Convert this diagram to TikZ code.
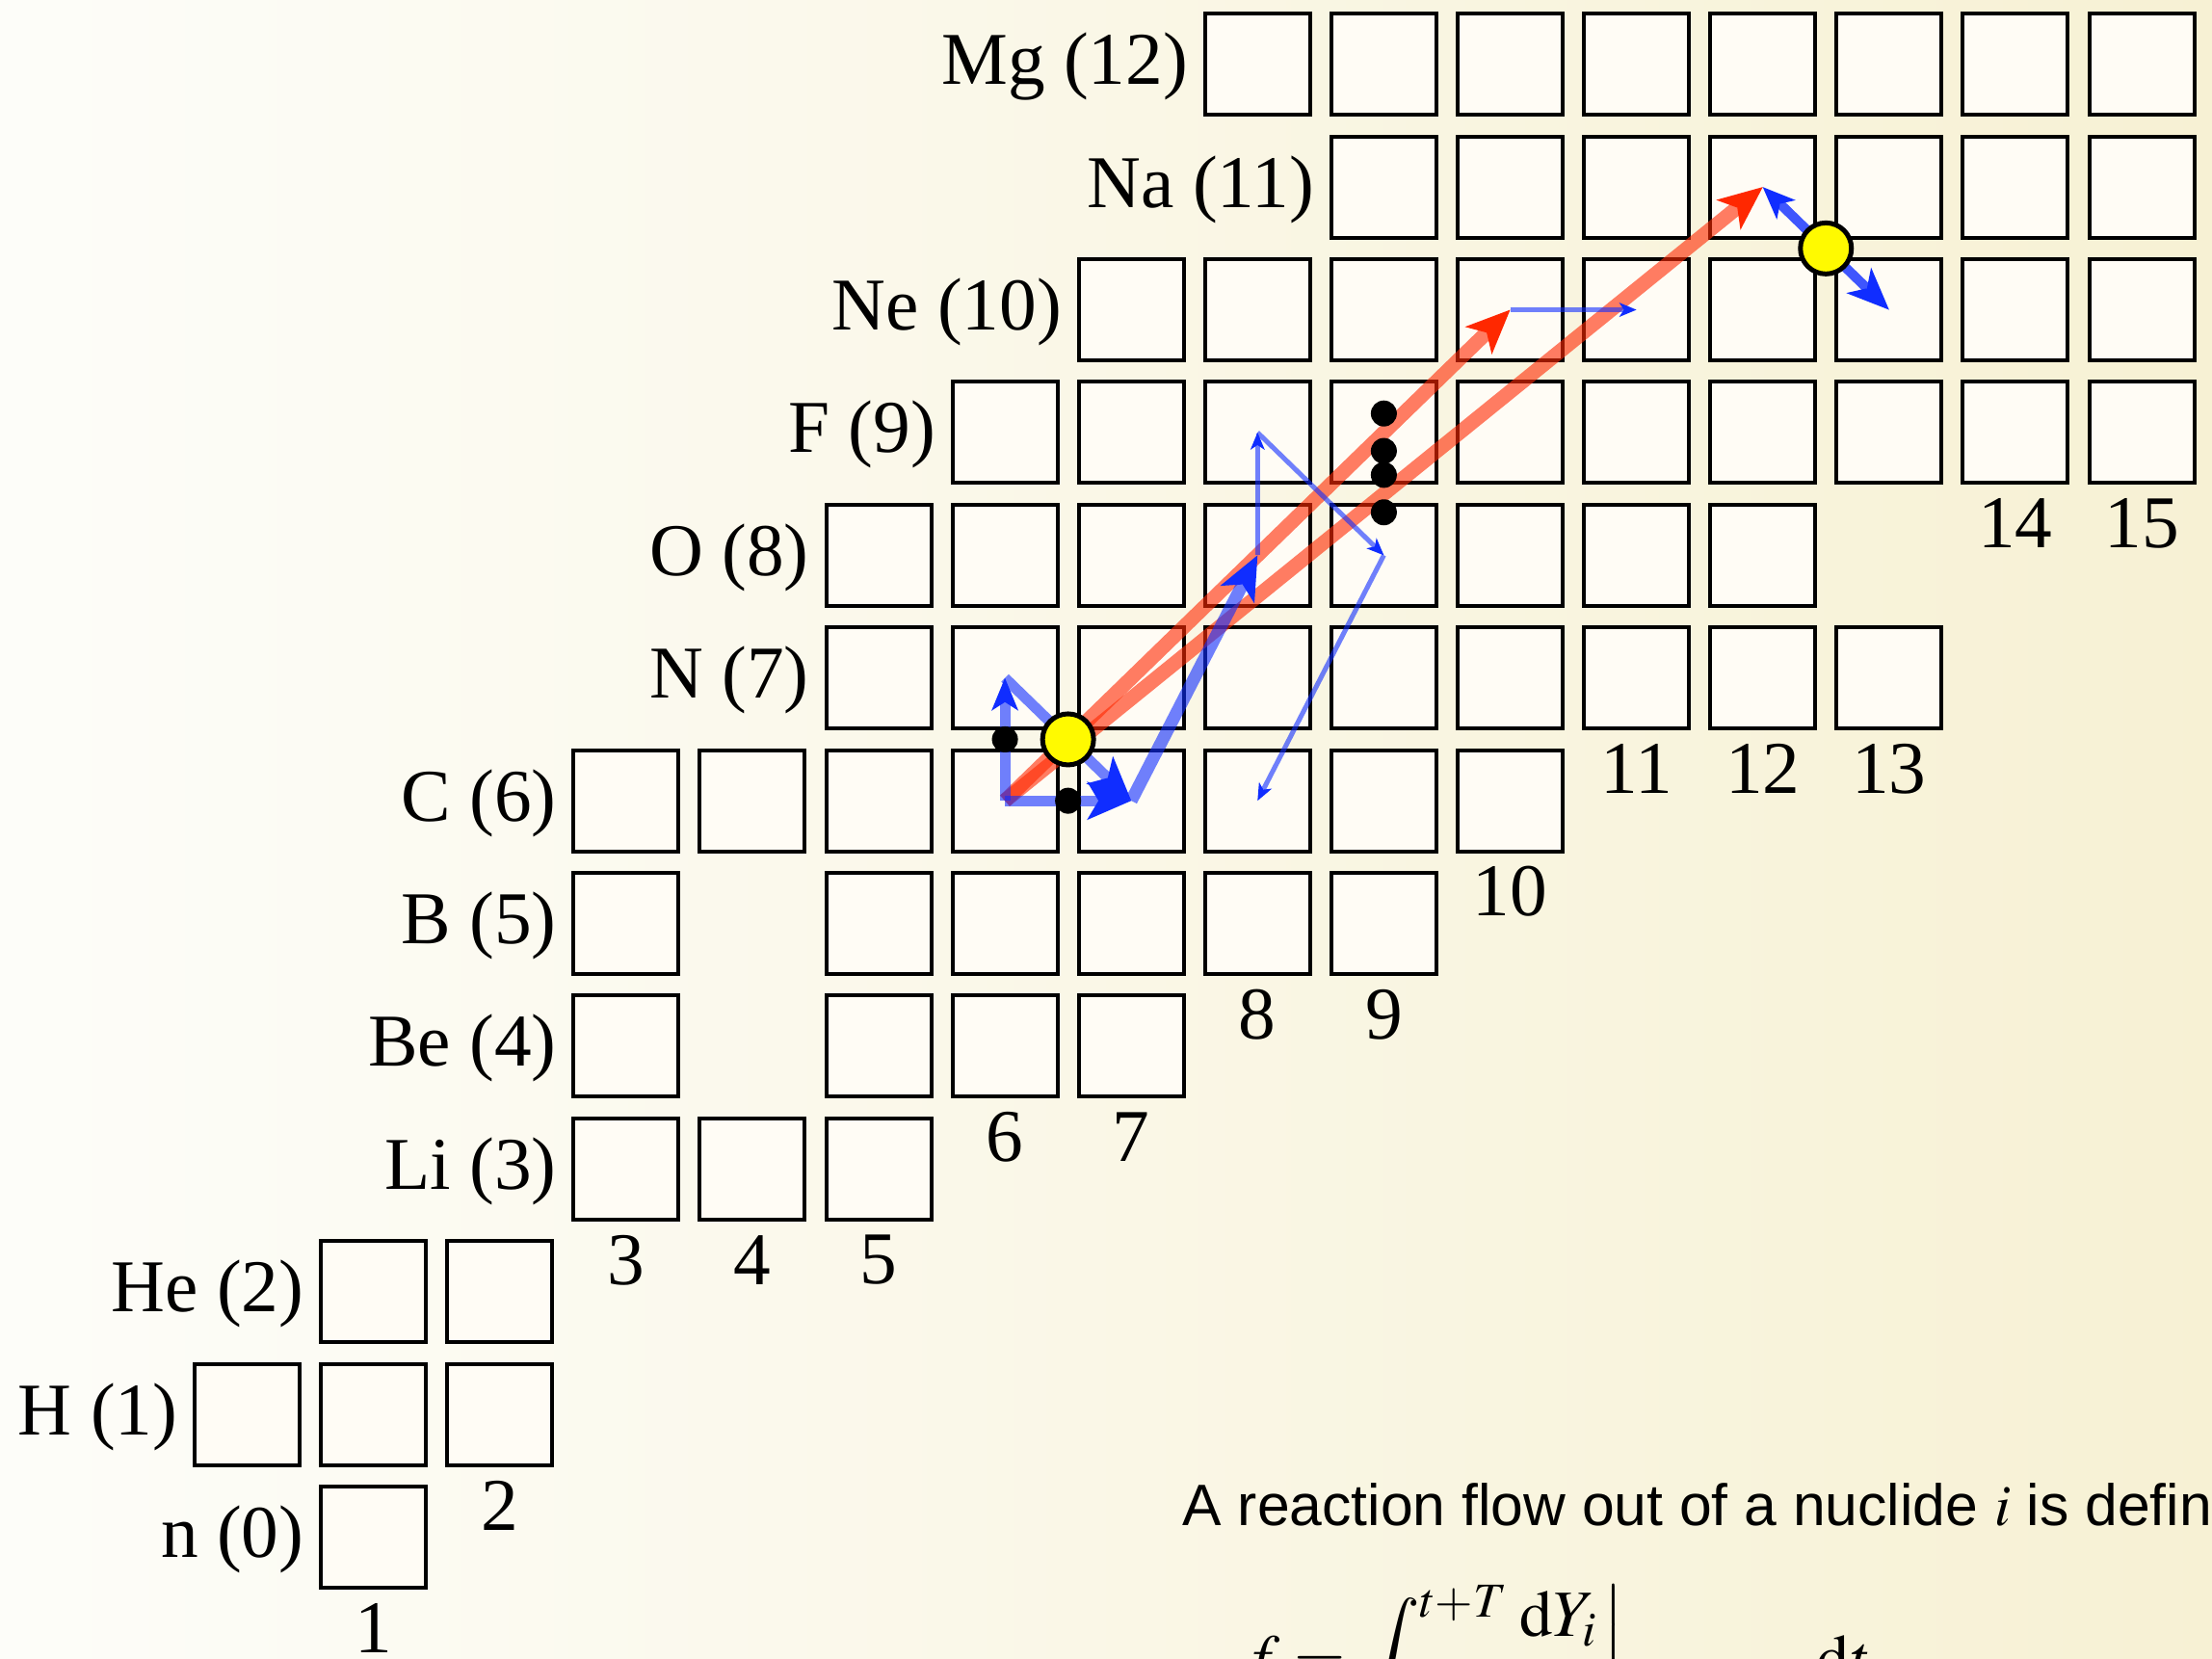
\documentclass[tikz,border=0pt]{standalone}
\usepackage{mathptmx}
\usepackage{fontspec}
\setmainfont{Liberation Serif}
\setsansfont{Liberation Sans}
\usetikzlibrary{arrows.meta}
\definecolor{bgleft}{RGB}{253,253,249}
\definecolor{bgright}{RGB}{247,241,212}
\definecolor{boxfill}{RGB}{255,252,245}
\definecolor{flowred}{RGB}{255,40,0}
\definecolor{flowblue}{RGB}{16,45,255}
\definecolor{hubyellow}{RGB}{255,250,0}

\begin{document}
\begin{tikzpicture}[x=1.311cm, y=1.274cm,
    nuc/.style={draw, line width=0.04cm, fill=boxfill, minimum width=1.09cm, minimum height=1.05cm, inner sep=0pt, outer sep=0pt},
    rowlab/.style={anchor=base east, inner sep=0pt, xshift=-1.7mm, yshift=-2.1mm, font=\fontsize{22}{26}\selectfont},
    collab/.style={inner sep=0pt, font=\fontsize{22}{26}\selectfont},
    bighead/.style={-{Stealth[length=0.46cm, width=0.40cm, inset=0.12cm, line width=0pt]}},
    smallhead/.style={-{Stealth[length=0.34cm, width=0.28cm, inset=0.09cm, line width=0pt]}},
    redflow/.style={draw=flowred, draw opacity=0.6, line width=0.15cm, bighead},
    blueflow/.style={draw=flowblue, draw opacity=0.6, line width=0.11cm, bighead},
    bluethin/.style={draw=flowblue, draw opacity=0.6, line width=0.05cm, -{Stealth[length=0.18cm, width=0.15cm, inset=0.05cm, line width=0pt]}},
    hub/.style={circle, draw, line width=0.05cm, fill=hubyellow, minimum size=0.53cm, inner sep=0pt},
    blackdot/.style={circle, fill=black, minimum size=0.27cm, inner sep=0pt},
]
\useasboundingbox (-1.9565,-0.985) rectangle (15.557,12.524);
\clip (-1.9565,-0.985) rectangle (15.557,12.524);
\shade[left color=bgleft, right color=bgright] (-1.9565,-0.985) rectangle (15.557,12.524);

\foreach \z/\first/\last in {0/1/1, 1/0/2, 2/1/2, 3/3/5, 4/3/3, 4/5/7, 5/3/3, 5/5/9, 6/3/10, 7/5/13, 8/5/12, 9/6/15, 10/7/15, 11/9/15, 12/8/15} {
    \foreach \n in {\first,...,\last}
        \node[nuc] (nuc-\z-\n) at (\n,\z) {};
}
\foreach \lab/\z/\n in {{n (0)}/0/1, {H (1)}/1/0, {He (2)}/2/1, {Li (3)}/3/3, {Be (4)}/4/3, {B (5)}/5/3, {C (6)}/6/3, {N (7)}/7/5, {O (8)}/8/5, {F (9)}/9/6, {Ne (10)}/10/7, {Na (11)}/11/9, {Mg (12)}/12/8} {
    \node[rowlab] (lab-\z) at (nuc-\z-\n.west) {\lab};
}
\foreach \n/\z in {1/0, 2/1, 3/3, 4/3, 5/3, 6/4, 7/4, 8/5, 9/5, 10/6, 11/7, 12/7, 13/7, 14/9, 15/9} {
    \node[collab] (col-\n) at ([yshift=-0.945cm]nuc-\z-\n.center) {\n};
}

\draw[redflow] (nuc-6-6.center) -- (nuc-10-10.center);
\draw[redflow] (nuc-6-6.center) -- (nuc-11-12.center);

\draw[blueflow, smallhead] (nuc-6-6.center) -- (nuc-7-6.center);
\draw[blueflow] (nuc-6-6.center) -- (nuc-6-7.center);
\draw[blueflow] (nuc-7-6.center) -- (nuc-6-7.center);
\draw[blueflow, line width=0.13cm] (nuc-6-7.center) -- (nuc-8-8.center);
\draw[bluethin] (nuc-8-8.center) -- (nuc-9-8.center);
\draw[bluethin] (nuc-9-8.center) -- (nuc-8-9.center);
\draw[bluethin] (nuc-8-9.center) -- (nuc-6-8.center);
\draw[bluethin] (nuc-10-10.center) -- (nuc-10-11.center);
\draw[blueflow, draw opacity=0.8, line width=0.1cm, {Stealth[length=0.34cm, width=0.28cm, inset=0.09cm, line width=0pt]}-{Stealth[length=0.44cm, width=0.37cm, inset=0.12cm, line width=0pt]}] (nuc-11-12.center) -- (nuc-10-13.center);

\foreach \x/\y in {6/6.5, 6.5/6, 9/9.155, 9/8.85, 9/8.655, 9/8.35} {
    \node[blackdot] at (\x,\y) {};
}
\node[hub] (hub-c) at (6.5,6.5) {};
\node[hub] (hub-na) at (12.5,10.5) {};

\node[anchor=base west, inner sep=0pt, font=\sffamily\fontsize{17.25}{21}\selectfont] (flowtext) at (7.403,0.098) {A reaction flow out of a nuclide $i$ is defined};
\node[anchor=base west, inner sep=0pt, font=\fontsize{19.5}{23}\selectfont] (flowdef) at (7.87,-1.17) {$\displaystyle f=\int^{t+T}\frac{\mathrm{d}Y_i}{\mathrm{d}t}\bigg|\hspace{2cm}\mathrm{d}t$};
\end{tikzpicture}
\end{document}
